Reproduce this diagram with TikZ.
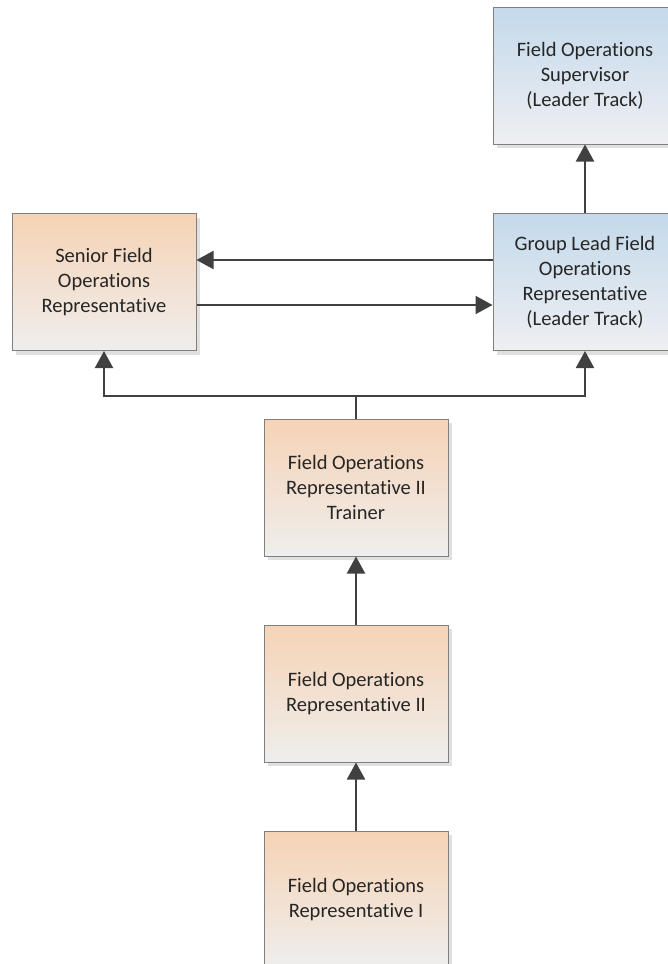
\documentclass[tikz,border=0pt]{standalone}
\usepackage{fontspec}
\setmainfont{Carlito}[Ligatures={NoCommon,NoRequired,NoContextual},Contextuals={NoAlternate}]
\usetikzlibrary{arrows.meta,shadows}
\definecolor{otop}{HTML}{F6D3B5}
\definecolor{obot}{HTML}{EFEEED}
\definecolor{btop}{HTML}{C4D9EB}
\definecolor{bbot}{HTML}{EEEFF2}
\definecolor{boxborder}{HTML}{7F7F7F}
\definecolor{linecol}{HTML}{404040}
\definecolor{textcol}{HTML}{262626}
\begin{document}
\begin{tikzpicture}[x=1pt,y=-1pt,
  box/.style={draw=boxborder, line width=1pt, minimum width=184pt, minimum height=137pt,
    inner sep=0pt, align=center, font=\fontsize{20.5}{25}\selectfont, text=textcol,
    drop shadow={shadow xshift=4pt,shadow yshift=-4pt,fill=black!12,opacity=1}},
  obox/.style={box, top color=otop, bottom color=obot},
  bbox/.style={box, top color=btop, bottom color=bbot},
  plainline/.style={draw=linecol, line width=2pt},
  conn/.style={plainline, -{Triangle[width=18pt,length=17pt]}}
]
\useasboundingbox (0,0) rectangle (668,964);
\fill[white] (0,0) rectangle (668,964);
\clip (0,0) rectangle (668,964);
\node[bbox] (sup) at (585,75.5) {Field Operations\\Supervisor\\(Leader Track)};
\node[bbox] (glead) at (585,282) {Group Lead Field\\Operations\\Representative\\(Leader Track)};
\node[obox] (senior) at (104,282) {Senior Field\\Operations\\Representative};
\node[obox] (trainer) at (356,487.5) {Field Operations\\Representative II\\Trainer};
\node[obox] (rep2) at (356,693.5) {Field Operations\\Representative II};
\node[obox] (rep1) at (356,899.5) {Field Operations\\Representative I};
\coordinate (bus) at (356,396);
\draw[conn] (glead.north) -- (sup.south);
\draw[conn] ([yshift=22pt]glead.west) -- ([yshift=22pt]senior.east);
\draw[conn] ([yshift=-23pt]senior.east) -- ([yshift=-23pt]glead.west);
\draw[plainline] (trainer.north) -- (bus);
\draw[conn] (bus) -| (senior.south);
\draw[conn] (bus) -| (glead.south);
\draw[conn] (rep2.north) -- (trainer.south);
\draw[conn] (rep1.north) -- (rep2.south);
\end{tikzpicture}
\end{document}
